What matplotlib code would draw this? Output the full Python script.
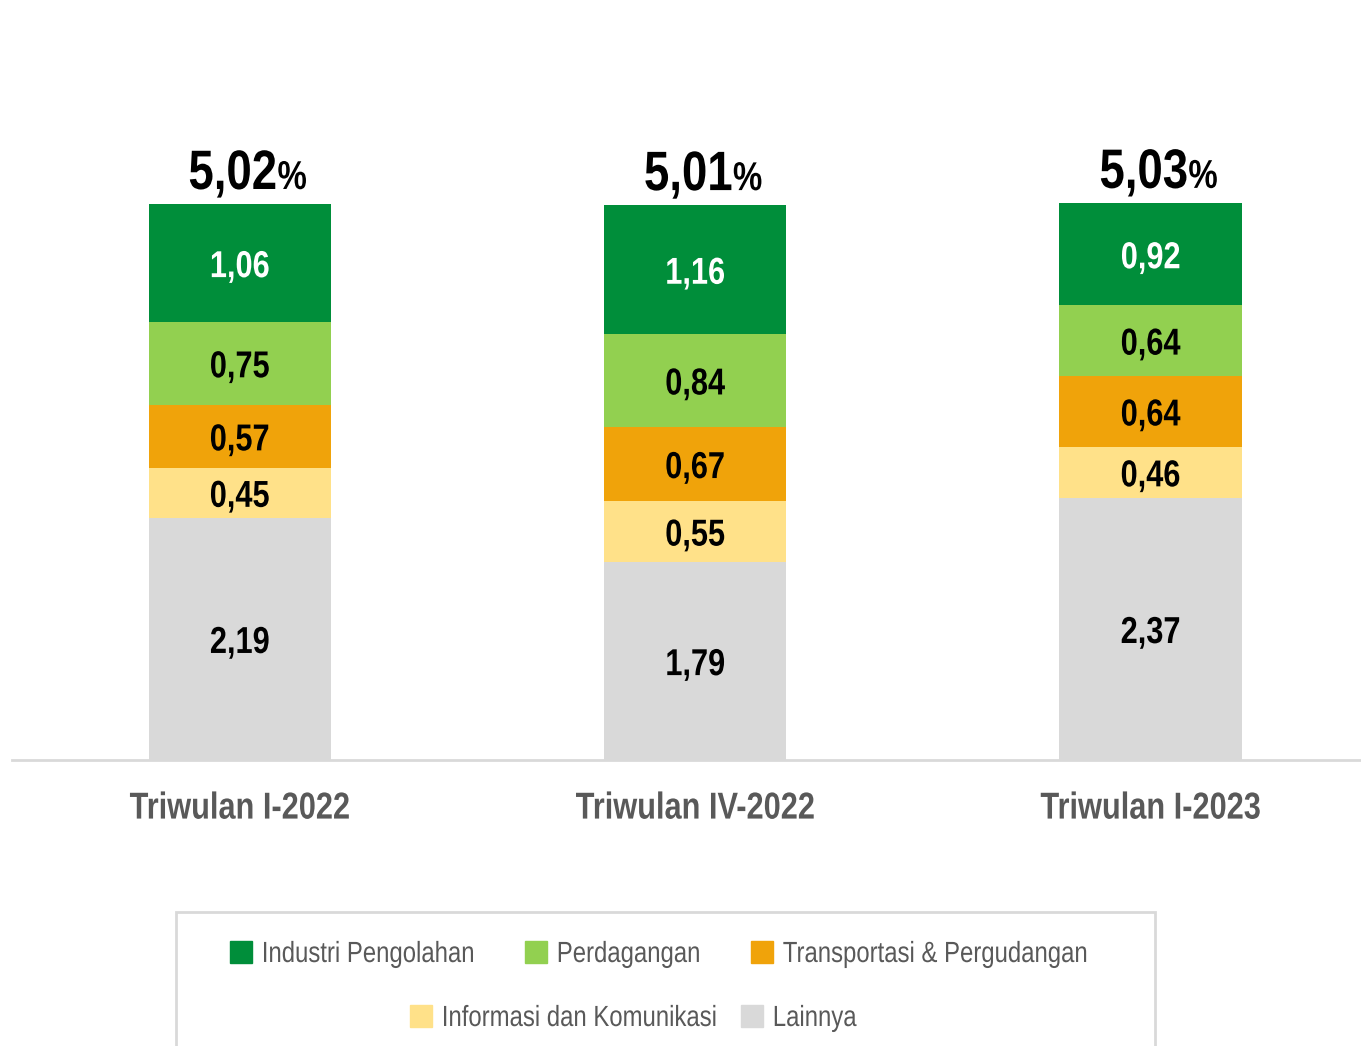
import matplotlib
matplotlib.use("Agg")
import matplotlib.pyplot as plt
from matplotlib import font_manager
from matplotlib.patches import Rectangle, Patch
from matplotlib.patheffects import AbstractPathEffect
from matplotlib.transforms import Affine2D
import numpy as np

names = {f.name for f in font_manager.fontManager.ttflist}
if "Liberation Sans Narrow" in names:
    FONT = ["Liberation Sans Narrow", "DejaVu Sans"]
    SX = 1.0
else:
    # no narrow face: squeeze Liberation Sans to look like Arial Narrow
    FONT = ["Liberation Sans", "DejaVu Sans"]
    SX = 0.82
plt.rcParams["font.family"] = FONT


class Narrow(AbstractPathEffect):
    """squeeze text horizontally around left / center / right"""
    def __init__(self, anchor="center"):
        super().__init__()
        self.anchor = anchor

    def draw_path(self, renderer, gc, tpath, affine, rgbFace=None):
        ext = tpath.get_extents()
        if self.anchor == "center":
            cx = (ext.x0 + ext.x1) / 2
        elif self.anchor == "right":
            cx = ext.x1
        else:
            cx = 0
        t = Affine2D().translate(-cx, 0).scale(SX, 1).translate(cx, 0) + affine
        renderer.draw_path(gc, tpath, t, rgbFace)


# data
periods = ["Triwulan I-2022", "Triwulan IV-2022", "Triwulan I-2023"]
sectors = ["Lainnya", "Informasi dan Komunikasi", "Transportasi & Pergudangan",
           "Perdagangan", "Industri Pengolahan"]
lainnya = [2.19, 1.79, 2.37]
infokom = [0.45, 0.55, 0.46]
transport = [0.57, 0.67, 0.64]
dagang = [0.75, 0.84, 0.64]
industri = [1.06, 1.16, 0.92]
totals = ["5,02", "5,01", "5,03"]

colors = ["#D9D9D9", "#FFE189", "#F0A30A", "#92D050", "#008E3A"]
label_colors = ["black", "black", "black", "black", "white"]

series = [lainnya, infokom, transport, dagang, industri]

fig = plt.figure(figsize=(13.61, 10.46), dpi=100)
ax = fig.add_axes([0.0088, 0.2734, 0.9905, 0.5927])

x = np.arange(len(periods))
bottom = np.zeros(len(periods))
for vals, col, lc in zip(series, colors, label_colors):
    ax.bar(x, vals, width=0.4, bottom=bottom, color=col, edgecolor="none")
    for xi, b, v in zip(x, bottom, vals):
        ax.annotate(f"{v:.2f}".replace(".", ","), (xi, b + v / 2), xytext=(0, -3),
                    textcoords="offset points", ha="center", va="center",
                    fontsize=27, fontweight="bold", color=lc,
                    path_effects=[Narrow("center")])
    bottom = bottom + np.array(vals)

for xi, top, t in zip(x, bottom, totals):
    ax.annotate(t, (xi + 0.083, top), xytext=(0, 11), textcoords="offset points",
                ha="right", va="baseline", fontsize=40, fontweight="bold", color="black",
                path_effects=[Narrow("right")])
    ax.annotate("%", (xi + 0.083, top), xytext=(0, 11), textcoords="offset points",
                ha="left", va="baseline", fontsize=29, fontweight="bold", color="black",
                path_effects=[Narrow("left")])

ax.set_xlim(-0.5, 2.46)
ax.set_ylim(0, 5.6)
for s in ["top", "right", "left"]:
    ax.spines[s].set_visible(False)
ax.spines["bottom"].set_color("#D9D9D9")
ax.spines["bottom"].set_linewidth(2)
ax.set_yticks([])
ax.set_xticks(x)
ax.set_xticklabels(periods, fontsize=27, fontweight="bold", color="#595959")
for lbl in ax.get_xticklabels():
    lbl.set_path_effects([Narrow("center")])
ax.tick_params(axis="x", length=0, pad=22)

# legend box
fig.patches.append(Rectangle((176 / 1361, -0.05), (1155 - 176) / 1361, (134 + 52) / 1046,
                             transform=fig.transFigure, fill=False,
                             edgecolor="#D9D9D9", linewidth=2))

# one small legend per entry, two centred rows
order = [4, 3, 2, 1, 0]
pos = [(230, 954), (525, 954), (751, 954), (410, 1018), (741, 1018)]
for i, (px, py) in zip(order, pos):
    leg = fig.legend([Patch(color=colors[i])], [sectors[i]], frameon=False,
                     fontsize=21, handlelength=0.75, handleheight=0.75,
                     handletextpad=0.34, borderpad=0, borderaxespad=0,
                     labelcolor="#595959", loc="center left",
                     bbox_to_anchor=(px / 1361, 1 - py / 1046))
    for txt in leg.get_texts():
        txt.set_path_effects([Narrow("left")])

fig.savefig("out.png", dpi=100)
